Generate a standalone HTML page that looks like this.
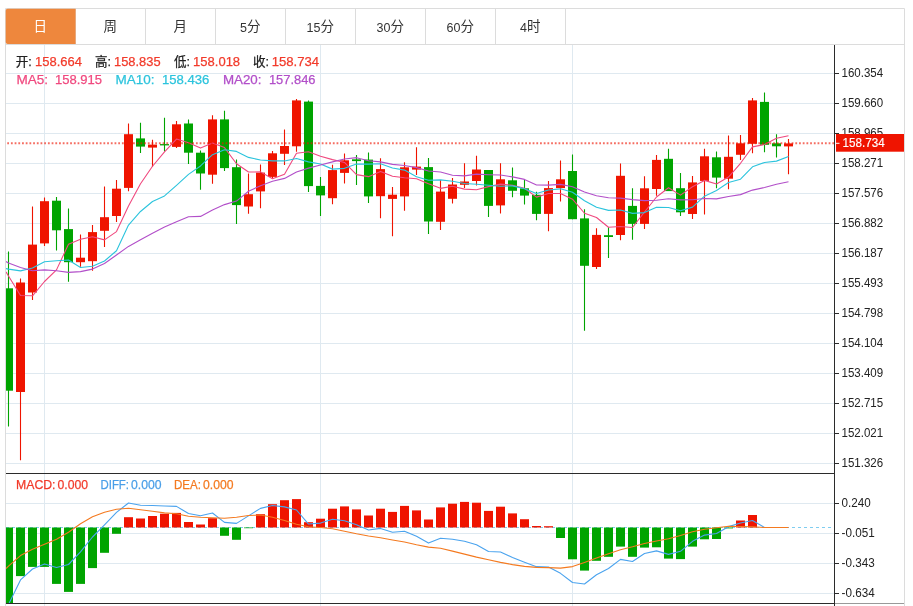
<!DOCTYPE html>
<html lang="zh"><head><meta charset="utf-8"><title>K线图</title>
<style>html,body{margin:0;padding:0;background:#fff;overflow:hidden}svg{display:block}text{font-family:"Liberation Sans","Noto Sans CJK SC",sans-serif}</style></head><body>
<svg width="913" height="606" viewBox="0 0 913 606">
<rect width="913" height="606" fill="#fff"/>
<defs><clipPath id="cm"><rect x="6" y="45" width="828.5" height="428.5"/></clipPath><clipPath id="cd"><rect x="6" y="474" width="828.5" height="129.5"/></clipPath></defs>
<g stroke="#dfe9f0" stroke-width="1" fill="none">
<line x1="6" x2="834" y1="73.50" y2="73.50"/>
<line x1="6" x2="834" y1="103.50" y2="103.50"/>
<line x1="6" x2="834" y1="133.50" y2="133.50"/>
<line x1="6" x2="834" y1="163.50" y2="163.50"/>
<line x1="6" x2="834" y1="193.50" y2="193.50"/>
<line x1="6" x2="834" y1="223.50" y2="223.50"/>
<line x1="6" x2="834" y1="253.50" y2="253.50"/>
<line x1="6" x2="834" y1="283.50" y2="283.50"/>
<line x1="6" x2="834" y1="313.50" y2="313.50"/>
<line x1="6" x2="834" y1="343.50" y2="343.50"/>
<line x1="6" x2="834" y1="373.50" y2="373.50"/>
<line x1="6" x2="834" y1="403.50" y2="403.50"/>
<line x1="6" x2="834" y1="433.50" y2="433.50"/>
<line x1="6" x2="834" y1="463.50" y2="463.50"/>
<line x1="6" x2="834" y1="503.50" y2="503.50"/>
<line x1="6" x2="834" y1="533.50" y2="533.50"/>
<line x1="6" x2="834" y1="563.50" y2="563.50"/>
<line x1="6" x2="834" y1="593.50" y2="593.50"/>
<line x1="44.50" x2="44.50" y1="45" y2="606"/>
<line x1="320.50" x2="320.50" y1="45" y2="606"/>
<line x1="572.50" x2="572.50" y1="45" y2="606"/>
</g>
<g stroke="#dcdcdc" stroke-width="1" fill="none">
<path d="M5.5 606V8.5H904.5V606"/>
<line x1="6" x2="904" y1="44.5" y2="44.5"/>
<line x1="75.5" x2="75.5" y1="9" y2="44"/>
<line x1="145.5" x2="145.5" y1="9" y2="44"/>
<line x1="215.5" x2="215.5" y1="9" y2="44"/>
<line x1="285.5" x2="285.5" y1="9" y2="44"/>
<line x1="355.5" x2="355.5" y1="9" y2="44"/>
<line x1="425.5" x2="425.5" y1="9" y2="44"/>
<line x1="495.5" x2="495.5" y1="9" y2="44"/>
<line x1="565.5" x2="565.5" y1="9" y2="44"/>
</g>
<path d="M7.7 8.7H75.6V44.1H7.7a2 2 0 0 1 -2-2V10.7a2 2 0 0 1 2-2z" fill="#ee873d"/>
<text x="40.3" y="30.9" font-size="13.5" text-anchor="middle" fill="#fff">日</text>
<text x="110.3" y="30.9" font-size="13.5" text-anchor="middle" fill="#333">周</text>
<text x="180.3" y="30.9" font-size="13.5" text-anchor="middle" fill="#333">月</text>
<text x="250.3" y="30.9" font-size="13.5" text-anchor="middle" fill="#333"><tspan font-size="12.5" dy="0.8">5</tspan><tspan dy="-0.8">分</tspan></text>
<text x="320.3" y="30.9" font-size="13.5" text-anchor="middle" fill="#333"><tspan font-size="12.5" dy="0.8">15</tspan><tspan dy="-0.8">分</tspan></text>
<text x="390.3" y="30.9" font-size="13.5" text-anchor="middle" fill="#333"><tspan font-size="12.5" dy="0.8">30</tspan><tspan dy="-0.8">分</tspan></text>
<text x="460.3" y="30.9" font-size="13.5" text-anchor="middle" fill="#333"><tspan font-size="12.5" dy="0.8">60</tspan><tspan dy="-0.8">分</tspan></text>
<text x="530.3" y="30.9" font-size="13.5" text-anchor="middle" fill="#333"><tspan font-size="12.5" dy="0.8">4</tspan><tspan dy="-0.8">时</tspan></text>
<text x="15.8" y="65.9" font-size="13" fill="#222" stroke="#222" stroke-width="0.25" textLength="16.0" lengthAdjust="spacingAndGlyphs">开:</text>
<text x="35.0" y="65.9" font-size="13" fill="#f23a2a" stroke="#f23a2a" stroke-width="0.25" textLength="46.9" lengthAdjust="spacingAndGlyphs">158.664</text>
<text x="95.0" y="65.9" font-size="13" fill="#222" stroke="#222" stroke-width="0.25" textLength="16.0" lengthAdjust="spacingAndGlyphs">高:</text>
<text x="114.0" y="65.9" font-size="13" fill="#f23a2a" stroke="#f23a2a" stroke-width="0.25" textLength="46.6" lengthAdjust="spacingAndGlyphs">158.835</text>
<text x="174.0" y="65.9" font-size="13" fill="#222" stroke="#222" stroke-width="0.25" textLength="16.0" lengthAdjust="spacingAndGlyphs">低:</text>
<text x="193.1" y="65.9" font-size="13" fill="#f23a2a" stroke="#f23a2a" stroke-width="0.25" textLength="47.0" lengthAdjust="spacingAndGlyphs">158.018</text>
<text x="253.1" y="65.9" font-size="13" fill="#222" stroke="#222" stroke-width="0.25" textLength="16.0" lengthAdjust="spacingAndGlyphs">收:</text>
<text x="271.7" y="65.9" font-size="13" fill="#f23a2a" stroke="#f23a2a" stroke-width="0.25" textLength="47.5" lengthAdjust="spacingAndGlyphs">158.734</text>
<text x="16.4" y="83.6" font-size="13" fill="#f0497f" stroke="#f0497f" stroke-width="0.25" textLength="31.6" lengthAdjust="spacingAndGlyphs">MA5:</text>
<text x="54.9" y="83.6" font-size="13" fill="#f0497f" stroke="#f0497f" stroke-width="0.25" textLength="47.1" lengthAdjust="spacingAndGlyphs">158.915</text>
<text x="115.5" y="83.6" font-size="13" fill="#2cc4dd" stroke="#2cc4dd" stroke-width="0.25" textLength="39.0" lengthAdjust="spacingAndGlyphs">MA10:</text>
<text x="161.9" y="83.6" font-size="13" fill="#2cc4dd" stroke="#2cc4dd" stroke-width="0.25" textLength="47.4" lengthAdjust="spacingAndGlyphs">158.436</text>
<text x="222.9" y="83.6" font-size="13" fill="#b24fc9" stroke="#b24fc9" stroke-width="0.25" textLength="38.6" lengthAdjust="spacingAndGlyphs">MA20:</text>
<text x="268.9" y="83.6" font-size="13" fill="#b24fc9" stroke="#b24fc9" stroke-width="0.25" textLength="46.6" lengthAdjust="spacingAndGlyphs">157.846</text>
<g clip-path="url(#cm)">
<line x1="8.50" x2="8.50" y1="251.4" y2="426.4" stroke="#00a400" stroke-width="1.1"/>
<rect x="4.00" y="288.3" width="9.0" height="102.4" fill="#00a400"/>
<line x1="20.50" x2="20.50" y1="278.5" y2="460.2" stroke="#ef1400" stroke-width="1.1"/>
<rect x="16.00" y="282.5" width="9.0" height="109.5" fill="#ef1400"/>
<line x1="32.50" x2="32.50" y1="206.5" y2="300.0" stroke="#ef1400" stroke-width="1.1"/>
<rect x="28.00" y="244.6" width="9.0" height="47.9" fill="#ef1400"/>
<line x1="44.50" x2="44.50" y1="197.4" y2="246.1" stroke="#ef1400" stroke-width="1.1"/>
<rect x="40.00" y="201.2" width="9.0" height="42.2" fill="#ef1400"/>
<line x1="56.50" x2="56.50" y1="196.9" y2="250.4" stroke="#00a400" stroke-width="1.1"/>
<rect x="52.00" y="200.7" width="9.0" height="29.6" fill="#00a400"/>
<line x1="68.50" x2="68.50" y1="208.5" y2="281.7" stroke="#00a400" stroke-width="1.1"/>
<rect x="64.00" y="229.1" width="9.0" height="33.1" fill="#00a400"/>
<line x1="80.50" x2="80.50" y1="234.6" y2="266.7" stroke="#ef1400" stroke-width="1.1"/>
<rect x="76.00" y="257.7" width="9.0" height="4.5" fill="#ef1400"/>
<line x1="92.50" x2="92.50" y1="225.0" y2="270.7" stroke="#ef1400" stroke-width="1.1"/>
<rect x="88.00" y="232.1" width="9.0" height="29.1" fill="#ef1400"/>
<line x1="104.50" x2="104.50" y1="186.6" y2="247.1" stroke="#ef1400" stroke-width="1.1"/>
<rect x="100.00" y="217.2" width="9.0" height="13.6" fill="#ef1400"/>
<line x1="116.50" x2="116.50" y1="180.1" y2="222.0" stroke="#ef1400" stroke-width="1.1"/>
<rect x="112.00" y="188.7" width="9.0" height="27.3" fill="#ef1400"/>
<line x1="128.50" x2="128.50" y1="123.5" y2="191.2" stroke="#ef1400" stroke-width="1.1"/>
<rect x="124.00" y="134.2" width="9.0" height="53.7" fill="#ef1400"/>
<line x1="140.50" x2="140.50" y1="122.7" y2="152.9" stroke="#00a400" stroke-width="1.1"/>
<rect x="136.00" y="138.4" width="9.0" height="8.2" fill="#00a400"/>
<line x1="152.50" x2="152.50" y1="139.7" y2="166.9" stroke="#ef1400" stroke-width="1.1"/>
<rect x="148.00" y="144.6" width="9.0" height="3.0" fill="#ef1400"/>
<line x1="164.50" x2="164.50" y1="117.7" y2="151.6" stroke="#00a400" stroke-width="1.1"/>
<rect x="160.00" y="144.1" width="9.0" height="1.3" fill="#00a400"/>
<line x1="176.50" x2="176.50" y1="121.0" y2="147.9" stroke="#ef1400" stroke-width="1.1"/>
<rect x="172.00" y="124.3" width="9.0" height="22.6" fill="#ef1400"/>
<line x1="188.50" x2="188.50" y1="119.4" y2="163.9" stroke="#00a400" stroke-width="1.1"/>
<rect x="184.00" y="123.5" width="9.0" height="29.2" fill="#00a400"/>
<line x1="200.50" x2="200.50" y1="150.4" y2="189.8" stroke="#00a400" stroke-width="1.1"/>
<rect x="196.00" y="152.7" width="9.0" height="20.8" fill="#00a400"/>
<line x1="212.50" x2="212.50" y1="115.3" y2="183.7" stroke="#ef1400" stroke-width="1.1"/>
<rect x="208.00" y="119.4" width="9.0" height="55.3" fill="#ef1400"/>
<line x1="224.50" x2="224.50" y1="110.7" y2="171.1" stroke="#00a400" stroke-width="1.1"/>
<rect x="220.00" y="119.4" width="9.0" height="48.7" fill="#00a400"/>
<line x1="236.50" x2="236.50" y1="159.4" y2="223.9" stroke="#00a400" stroke-width="1.1"/>
<rect x="232.00" y="167.2" width="9.0" height="37.9" fill="#00a400"/>
<line x1="248.50" x2="248.50" y1="173.4" y2="213.7" stroke="#ef1400" stroke-width="1.1"/>
<rect x="244.00" y="194.2" width="9.0" height="12.3" fill="#ef1400"/>
<line x1="260.50" x2="260.50" y1="164.6" y2="208.2" stroke="#ef1400" stroke-width="1.1"/>
<rect x="256.00" y="172.6" width="9.0" height="18.8" fill="#ef1400"/>
<line x1="272.50" x2="272.50" y1="151.0" y2="178.1" stroke="#ef1400" stroke-width="1.1"/>
<rect x="268.00" y="153.3" width="9.0" height="23.6" fill="#ef1400"/>
<line x1="284.50" x2="284.50" y1="129.5" y2="165.1" stroke="#ef1400" stroke-width="1.1"/>
<rect x="280.00" y="146.0" width="9.0" height="7.8" fill="#ef1400"/>
<line x1="296.50" x2="296.50" y1="99.1" y2="151.8" stroke="#ef1400" stroke-width="1.1"/>
<rect x="292.00" y="100.4" width="9.0" height="45.9" fill="#ef1400"/>
<line x1="308.50" x2="308.50" y1="100.4" y2="191.9" stroke="#00a400" stroke-width="1.1"/>
<rect x="304.00" y="101.6" width="9.0" height="84.5" fill="#00a400"/>
<line x1="320.50" x2="320.50" y1="176.9" y2="216.0" stroke="#00a400" stroke-width="1.1"/>
<rect x="316.00" y="185.9" width="9.0" height="9.5" fill="#00a400"/>
<line x1="332.50" x2="332.50" y1="164.8" y2="204.2" stroke="#ef1400" stroke-width="1.1"/>
<rect x="328.00" y="170.1" width="9.0" height="28.1" fill="#ef1400"/>
<line x1="344.50" x2="344.50" y1="153.5" y2="183.6" stroke="#ef1400" stroke-width="1.1"/>
<rect x="340.00" y="160.3" width="9.0" height="12.6" fill="#ef1400"/>
<line x1="356.50" x2="356.50" y1="155.0" y2="185.1" stroke="#00a400" stroke-width="1.1"/>
<rect x="352.00" y="159.3" width="9.0" height="1.8" fill="#00a400"/>
<line x1="368.50" x2="368.50" y1="152.5" y2="202.9" stroke="#00a400" stroke-width="1.1"/>
<rect x="364.00" y="159.6" width="9.0" height="36.8" fill="#00a400"/>
<line x1="380.50" x2="380.50" y1="158.3" y2="218.2" stroke="#ef1400" stroke-width="1.1"/>
<rect x="376.00" y="169.1" width="9.0" height="27.1" fill="#ef1400"/>
<line x1="392.50" x2="392.50" y1="187.1" y2="236.2" stroke="#ef1400" stroke-width="1.1"/>
<rect x="388.00" y="194.7" width="9.0" height="4.2" fill="#ef1400"/>
<line x1="404.50" x2="404.50" y1="162.3" y2="210.7" stroke="#ef1400" stroke-width="1.1"/>
<rect x="400.00" y="167.3" width="9.0" height="29.1" fill="#ef1400"/>
<line x1="416.50" x2="416.50" y1="147.3" y2="175.1" stroke="#ef1400" stroke-width="1.1"/>
<rect x="412.00" y="166.6" width="9.0" height="3.0" fill="#ef1400"/>
<line x1="428.50" x2="428.50" y1="158.1" y2="233.9" stroke="#00a400" stroke-width="1.1"/>
<rect x="424.00" y="167.1" width="9.0" height="54.4" fill="#00a400"/>
<line x1="440.50" x2="440.50" y1="180.1" y2="230.0" stroke="#ef1400" stroke-width="1.1"/>
<rect x="436.00" y="191.6" width="9.0" height="30.2" fill="#ef1400"/>
<line x1="452.50" x2="452.50" y1="178.0" y2="203.6" stroke="#ef1400" stroke-width="1.1"/>
<rect x="448.00" y="184.5" width="9.0" height="14.3" fill="#ef1400"/>
<line x1="464.50" x2="464.50" y1="163.2" y2="188.1" stroke="#ef1400" stroke-width="1.1"/>
<rect x="460.00" y="181.5" width="9.0" height="3.3" fill="#ef1400"/>
<line x1="476.50" x2="476.50" y1="155.7" y2="185.5" stroke="#ef1400" stroke-width="1.1"/>
<rect x="472.00" y="169.5" width="9.0" height="11.5" fill="#ef1400"/>
<line x1="488.50" x2="488.50" y1="170.0" y2="216.9" stroke="#00a400" stroke-width="1.1"/>
<rect x="484.00" y="170.0" width="9.0" height="35.9" fill="#00a400"/>
<line x1="500.50" x2="500.50" y1="163.2" y2="213.4" stroke="#ef1400" stroke-width="1.1"/>
<rect x="496.00" y="179.3" width="9.0" height="26.1" fill="#ef1400"/>
<line x1="512.50" x2="512.50" y1="167.5" y2="197.3" stroke="#00a400" stroke-width="1.1"/>
<rect x="508.00" y="180.3" width="9.0" height="10.5" fill="#00a400"/>
<line x1="524.50" x2="524.50" y1="179.8" y2="204.6" stroke="#00a400" stroke-width="1.1"/>
<rect x="520.00" y="188.3" width="9.0" height="7.3" fill="#00a400"/>
<line x1="536.50" x2="536.50" y1="191.8" y2="220.2" stroke="#00a400" stroke-width="1.1"/>
<rect x="532.00" y="194.8" width="9.0" height="19.1" fill="#00a400"/>
<line x1="548.50" x2="548.50" y1="181.0" y2="231.2" stroke="#ef1400" stroke-width="1.1"/>
<rect x="544.00" y="188.1" width="9.0" height="25.8" fill="#ef1400"/>
<line x1="560.50" x2="560.50" y1="160.5" y2="201.6" stroke="#ef1400" stroke-width="1.1"/>
<rect x="556.00" y="179.3" width="9.0" height="8.8" fill="#ef1400"/>
<line x1="572.50" x2="572.50" y1="154.4" y2="219.2" stroke="#00a400" stroke-width="1.1"/>
<rect x="568.00" y="171.0" width="9.0" height="48.2" fill="#00a400"/>
<line x1="584.50" x2="584.50" y1="209.3" y2="330.7" stroke="#00a400" stroke-width="1.1"/>
<rect x="580.00" y="218.4" width="9.0" height="47.4" fill="#00a400"/>
<line x1="596.50" x2="596.50" y1="228.3" y2="269.0" stroke="#ef1400" stroke-width="1.1"/>
<rect x="592.00" y="234.9" width="9.0" height="32.1" fill="#ef1400"/>
<line x1="608.50" x2="608.50" y1="227.2" y2="257.9" stroke="#00a400" stroke-width="1.1"/>
<rect x="604.00" y="235.2" width="9.0" height="1.8" fill="#00a400"/>
<line x1="620.50" x2="620.50" y1="163.5" y2="240.2" stroke="#ef1400" stroke-width="1.1"/>
<rect x="616.00" y="175.8" width="9.0" height="59.2" fill="#ef1400"/>
<line x1="632.50" x2="632.50" y1="188.3" y2="239.7" stroke="#00a400" stroke-width="1.1"/>
<rect x="628.00" y="205.9" width="9.0" height="18.0" fill="#00a400"/>
<line x1="644.50" x2="644.50" y1="176.2" y2="228.9" stroke="#ef1400" stroke-width="1.1"/>
<rect x="640.00" y="188.3" width="9.0" height="35.6" fill="#ef1400"/>
<line x1="656.50" x2="656.50" y1="155.1" y2="195.7" stroke="#ef1400" stroke-width="1.1"/>
<rect x="652.00" y="159.9" width="9.0" height="29.1" fill="#ef1400"/>
<line x1="668.50" x2="668.50" y1="148.8" y2="191.1" stroke="#00a400" stroke-width="1.1"/>
<rect x="664.00" y="158.8" width="9.0" height="32.3" fill="#00a400"/>
<line x1="680.50" x2="680.50" y1="173.1" y2="216.0" stroke="#00a400" stroke-width="1.1"/>
<rect x="676.00" y="188.2" width="9.0" height="24.1" fill="#00a400"/>
<line x1="692.50" x2="692.50" y1="176.1" y2="219.0" stroke="#ef1400" stroke-width="1.1"/>
<rect x="688.00" y="182.4" width="9.0" height="31.6" fill="#ef1400"/>
<line x1="704.50" x2="704.50" y1="148.8" y2="214.5" stroke="#ef1400" stroke-width="1.1"/>
<rect x="700.00" y="156.3" width="9.0" height="24.6" fill="#ef1400"/>
<line x1="716.50" x2="716.50" y1="151.6" y2="188.2" stroke="#00a400" stroke-width="1.1"/>
<rect x="712.00" y="157.3" width="9.0" height="20.3" fill="#00a400"/>
<line x1="728.50" x2="728.50" y1="135.5" y2="189.2" stroke="#ef1400" stroke-width="1.1"/>
<rect x="724.00" y="156.8" width="9.0" height="21.9" fill="#ef1400"/>
<line x1="740.50" x2="740.50" y1="135.0" y2="160.1" stroke="#ef1400" stroke-width="1.1"/>
<rect x="736.00" y="143.3" width="9.0" height="11.5" fill="#ef1400"/>
<line x1="752.50" x2="752.50" y1="97.9" y2="153.3" stroke="#ef1400" stroke-width="1.1"/>
<rect x="748.00" y="100.4" width="9.0" height="43.4" fill="#ef1400"/>
<line x1="764.50" x2="764.50" y1="92.4" y2="152.3" stroke="#00a400" stroke-width="1.1"/>
<rect x="760.00" y="101.9" width="9.0" height="42.9" fill="#00a400"/>
<line x1="776.50" x2="776.50" y1="134.3" y2="157.6" stroke="#00a400" stroke-width="1.1"/>
<rect x="772.00" y="143.3" width="9.0" height="3.0" fill="#00a400"/>
<line x1="788.50" x2="788.50" y1="138.9" y2="174.3" stroke="#ef1400" stroke-width="1.1"/>
<rect x="784.00" y="143.4" width="9.0" height="3.0" fill="#ef1400"/>
<polyline points="6.00,271.90 8.50,276.00 20.50,295.50 32.50,295.80 44.50,281.50 56.50,269.86 68.50,244.16 80.50,239.20 92.50,236.70 104.50,239.90 116.50,231.58 128.50,205.98 140.50,183.76 152.50,166.26 164.50,151.90 176.50,139.02 188.50,142.72 200.50,148.10 212.50,143.06 224.50,147.60 236.50,163.76 248.50,172.06 260.50,171.88 272.50,178.66 284.50,174.24 296.50,153.30 308.50,151.68 320.50,156.24 332.50,159.60 344.50,162.46 356.50,174.60 368.50,176.66 380.50,171.40 392.50,176.32 404.50,177.72 416.50,178.82 428.50,183.84 440.50,188.34 452.50,186.30 464.50,189.14 476.50,189.72 488.50,186.60 500.50,184.14 512.50,185.40 524.50,188.22 536.50,197.10 548.50,193.54 560.50,193.54 572.50,199.22 584.50,213.26 596.50,217.46 608.50,227.24 620.50,226.54 632.50,227.48 644.50,211.98 656.50,196.98 668.50,187.80 680.50,195.10 692.50,186.80 704.50,180.40 716.50,183.94 728.50,177.08 740.50,163.28 752.50,146.88 764.50,144.58 776.50,138.32 788.50,135.70" fill="none" stroke="#f0497f" stroke-width="1.1" stroke-linejoin="round"/>
<polyline points="6.00,268.60 8.50,269.10 20.50,270.90 32.50,268.00 44.50,261.70 56.50,260.70 68.50,260.00 80.50,267.50 92.50,266.30 104.50,261.00 116.50,250.72 128.50,225.07 140.50,211.48 152.50,201.48 164.50,195.90 176.50,185.30 188.50,174.35 200.50,165.93 212.50,154.66 224.50,149.75 236.50,151.39 248.50,157.39 260.50,159.99 272.50,160.86 284.50,160.92 296.50,158.53 308.50,161.87 320.50,164.06 332.50,169.13 344.50,168.35 356.50,163.95 368.50,164.17 380.50,163.82 392.50,167.96 404.50,170.09 416.50,176.71 428.50,180.25 440.50,179.87 452.50,181.31 464.50,183.43 476.50,184.27 488.50,185.22 500.50,186.24 512.50,185.85 524.50,188.68 536.50,193.41 548.50,190.07 560.50,188.84 572.50,192.31 584.50,200.74 596.50,207.28 608.50,210.39 620.50,210.04 632.50,213.35 644.50,212.62 656.50,207.22 668.50,207.52 680.50,210.82 692.50,207.14 704.50,196.19 716.50,190.46 728.50,182.44 740.50,179.19 752.50,166.84 764.50,162.49 776.50,161.13 788.50,156.40" fill="none" stroke="#2cc4dd" stroke-width="1.1" stroke-linejoin="round"/>
<polyline points="6.00,261.50 8.50,263.00 20.50,267.50 32.50,270.80 44.50,269.90 56.50,270.80 68.50,272.40 80.50,271.60 92.50,269.10 104.50,263.50 116.50,255.00 128.50,246.40 140.50,239.80 152.50,233.30 164.50,227.10 176.50,221.70 188.50,216.70 200.50,216.40 212.50,210.00 224.50,204.60 236.50,201.06 248.50,191.23 260.50,185.74 272.50,181.17 284.50,178.41 296.50,171.92 308.50,168.11 320.50,165.00 332.50,161.90 344.50,159.05 356.50,157.67 368.50,160.78 380.50,161.91 392.50,164.41 404.50,165.51 416.50,167.62 428.50,171.06 440.50,171.97 452.50,175.22 464.50,175.89 476.50,174.11 488.50,174.69 500.50,175.03 512.50,176.91 524.50,179.39 536.50,185.06 548.50,185.16 560.50,184.36 572.50,186.81 584.50,192.09 596.50,195.78 608.50,197.81 620.50,198.14 632.50,199.60 644.50,200.65 656.50,200.31 668.50,198.80 680.50,199.83 692.50,199.72 704.50,198.47 716.50,198.87 728.50,196.42 740.50,194.62 752.50,190.09 764.50,187.56 776.50,184.18 788.50,181.80" fill="none" stroke="#b24fc9" stroke-width="1.1" stroke-linejoin="round"/>
</g>
<line x1="3.53" x2="834" y1="143.2" y2="143.2" stroke="#ef1400" stroke-opacity="0.62" stroke-width="1.9" stroke-dasharray="1.8 1.9" clip-path="url(#cm)"/>
<line x1="6" x2="834" y1="527.5" y2="527.5" stroke="#7fcdf0" stroke-width="1" stroke-dasharray="3 3"/>
<g clip-path="url(#cd)">
<rect x="4.00" y="527.5" width="9.0" height="112.5" fill="#00a400"/>
<rect x="16.00" y="527.5" width="9.0" height="48.6" fill="#00a400"/>
<rect x="28.00" y="527.5" width="9.0" height="39.4" fill="#00a400"/>
<rect x="40.00" y="527.5" width="9.0" height="39.4" fill="#00a400"/>
<rect x="52.00" y="527.5" width="9.0" height="56.4" fill="#00a400"/>
<rect x="64.00" y="527.5" width="9.0" height="64.4" fill="#00a400"/>
<rect x="76.00" y="527.5" width="9.0" height="56.4" fill="#00a400"/>
<rect x="88.00" y="527.5" width="9.0" height="40.6" fill="#00a400"/>
<rect x="100.00" y="527.5" width="9.0" height="25.3" fill="#00a400"/>
<rect x="112.00" y="527.5" width="9.0" height="6.3" fill="#00a400"/>
<rect x="124.00" y="517.2" width="9.0" height="10.3" fill="#ef1400"/>
<rect x="136.00" y="518.5" width="9.0" height="9.0" fill="#ef1400"/>
<rect x="148.00" y="516.0" width="9.0" height="11.5" fill="#ef1400"/>
<rect x="160.00" y="513.7" width="9.0" height="13.8" fill="#ef1400"/>
<rect x="172.00" y="512.9" width="9.0" height="14.6" fill="#ef1400"/>
<rect x="184.00" y="522.0" width="9.0" height="5.5" fill="#ef1400"/>
<rect x="196.00" y="524.5" width="9.0" height="3.0" fill="#ef1400"/>
<rect x="208.00" y="518.2" width="9.0" height="9.3" fill="#ef1400"/>
<rect x="220.00" y="527.5" width="9.0" height="8.3" fill="#00a400"/>
<rect x="232.00" y="527.5" width="9.0" height="12.3" fill="#00a400"/>
<rect x="244.00" y="527.5" width="9.0" height="0.7" fill="#00a400"/>
<rect x="256.00" y="514.2" width="9.0" height="13.3" fill="#ef1400"/>
<rect x="268.00" y="504.2" width="9.0" height="23.3" fill="#ef1400"/>
<rect x="280.00" y="500.2" width="9.0" height="27.3" fill="#ef1400"/>
<rect x="292.00" y="499.1" width="9.0" height="28.4" fill="#ef1400"/>
<rect x="304.00" y="522.2" width="9.0" height="5.3" fill="#ef1400"/>
<rect x="316.00" y="518.7" width="9.0" height="8.8" fill="#ef1400"/>
<rect x="328.00" y="508.7" width="9.0" height="18.8" fill="#ef1400"/>
<rect x="340.00" y="506.4" width="9.0" height="21.1" fill="#ef1400"/>
<rect x="352.00" y="509.4" width="9.0" height="18.1" fill="#ef1400"/>
<rect x="364.00" y="515.5" width="9.0" height="12.0" fill="#ef1400"/>
<rect x="376.00" y="508.7" width="9.0" height="18.8" fill="#ef1400"/>
<rect x="388.00" y="511.9" width="9.0" height="15.6" fill="#ef1400"/>
<rect x="400.00" y="505.9" width="9.0" height="21.6" fill="#ef1400"/>
<rect x="412.00" y="510.4" width="9.0" height="17.1" fill="#ef1400"/>
<rect x="424.00" y="519.5" width="9.0" height="8.0" fill="#ef1400"/>
<rect x="436.00" y="507.4" width="9.0" height="20.1" fill="#ef1400"/>
<rect x="448.00" y="503.7" width="9.0" height="23.8" fill="#ef1400"/>
<rect x="460.00" y="501.9" width="9.0" height="25.6" fill="#ef1400"/>
<rect x="472.00" y="502.7" width="9.0" height="24.8" fill="#ef1400"/>
<rect x="484.00" y="510.9" width="9.0" height="16.6" fill="#ef1400"/>
<rect x="496.00" y="506.7" width="9.0" height="20.8" fill="#ef1400"/>
<rect x="508.00" y="513.4" width="9.0" height="14.1" fill="#ef1400"/>
<rect x="520.00" y="519.2" width="9.0" height="8.3" fill="#ef1400"/>
<rect x="532.00" y="526.0" width="9.0" height="1.5" fill="#ef1400"/>
<rect x="544.00" y="526.2" width="9.0" height="1.3" fill="#ef1400"/>
<rect x="556.00" y="527.5" width="9.0" height="10.5" fill="#00a400"/>
<rect x="568.00" y="527.5" width="9.0" height="31.8" fill="#00a400"/>
<rect x="580.00" y="527.5" width="9.0" height="43.1" fill="#00a400"/>
<rect x="592.00" y="527.5" width="9.0" height="33.3" fill="#00a400"/>
<rect x="604.00" y="527.5" width="9.0" height="29.3" fill="#00a400"/>
<rect x="616.00" y="527.5" width="9.0" height="19.1" fill="#00a400"/>
<rect x="628.00" y="527.5" width="9.0" height="29.3" fill="#00a400"/>
<rect x="640.00" y="527.5" width="9.0" height="20.1" fill="#00a400"/>
<rect x="652.00" y="527.5" width="9.0" height="19.8" fill="#00a400"/>
<rect x="664.00" y="527.5" width="9.0" height="31.1" fill="#00a400"/>
<rect x="676.00" y="527.5" width="9.0" height="31.6" fill="#00a400"/>
<rect x="688.00" y="527.5" width="9.0" height="19.1" fill="#00a400"/>
<rect x="700.00" y="527.5" width="9.0" height="11.8" fill="#00a400"/>
<rect x="712.00" y="527.5" width="9.0" height="11.5" fill="#00a400"/>
<rect x="724.00" y="527.5" width="9.0" height="0.9" fill="#00a400"/>
<rect x="736.00" y="520.5" width="9.0" height="7.0" fill="#ef1400"/>
<rect x="748.00" y="515.0" width="9.0" height="12.5" fill="#ef1400"/>
<polyline points="8.50,604.50 20.50,579.90 32.50,569.00 44.50,564.00 56.50,567.50 68.50,564.50 80.50,551.90 92.50,537.00 104.50,524.85 116.50,512.35 128.50,503.05 140.50,505.20 152.50,505.45 164.50,506.00 176.50,506.40 188.50,513.45 200.50,515.70 212.50,513.05 224.50,522.35 236.50,523.35 248.50,515.85 260.50,508.35 272.50,505.55 284.50,506.85 296.50,510.00 308.50,524.05 320.50,523.10 332.50,519.30 344.50,520.75 356.50,524.75 368.50,530.00 380.50,528.40 392.50,532.20 404.50,531.20 416.50,536.25 428.50,543.10 440.50,538.25 452.50,539.20 464.50,541.30 476.50,544.70 488.50,551.50 500.50,552.00 512.50,557.55 524.50,562.25 536.50,566.65 548.50,566.95 560.50,573.35 572.50,582.50 584.50,583.95 596.50,574.75 608.50,568.45 620.50,559.35 632.50,561.45 644.50,553.55 656.50,550.90 668.50,554.35 680.50,551.30 692.50,541.35 704.50,535.10 716.50,533.45 728.50,526.65 740.50,523.00 752.50,520.45 764.50,527.50 776.50,527.50 788.50,527.50" fill="none" stroke="#4aa3ee" stroke-width="1.1" stroke-linejoin="round"/>
<polyline points="6.00,568.50 8.50,566.10 20.50,555.60 32.50,549.30 44.50,544.30 56.50,539.30 68.50,532.30 80.50,523.70 92.50,516.70 104.50,512.20 116.50,509.20 128.50,508.20 140.50,509.70 152.50,511.20 164.50,512.90 176.50,513.70 188.50,516.20 200.50,517.20 212.50,517.70 224.50,518.20 236.50,517.20 248.50,515.50 260.50,515.00 272.50,517.20 284.50,520.50 296.50,524.20 308.50,526.70 320.50,527.50 332.50,528.70 344.50,531.30 356.50,533.80 368.50,536.00 380.50,537.80 392.50,540.00 404.50,542.00 416.50,544.80 428.50,547.10 440.50,548.30 452.50,551.10 464.50,554.10 476.50,557.10 488.50,559.80 500.50,562.40 512.50,564.60 524.50,566.40 536.50,567.40 548.50,567.60 560.50,568.10 572.50,566.60 584.50,562.40 596.50,558.10 608.50,553.80 620.50,549.80 632.50,546.80 644.50,543.50 656.50,541.00 668.50,538.80 680.50,535.50 692.50,531.80 704.50,529.20 716.50,527.70 728.50,526.20 740.50,526.50 752.50,526.70 764.50,527.50 776.50,527.50 788.50,527.50" fill="none" stroke="#f47a20" stroke-width="1.1" stroke-linejoin="round"/>
</g>
<text x="16.0" y="489.0" font-size="13" fill="#f23a2a" stroke="#f23a2a" stroke-width="0.25" textLength="39.5" lengthAdjust="spacingAndGlyphs">MACD:</text>
<text x="57.5" y="489.0" font-size="13" fill="#f23a2a" stroke="#f23a2a" stroke-width="0.25" textLength="30.5" lengthAdjust="spacingAndGlyphs">0.000</text>
<text x="100.5" y="489.0" font-size="13" fill="#4a9fe8" stroke="#4a9fe8" stroke-width="0.25" textLength="28.5" lengthAdjust="spacingAndGlyphs">DIFF:</text>
<text x="131.0" y="489.0" font-size="13" fill="#4a9fe8" stroke="#4a9fe8" stroke-width="0.25" textLength="30.5" lengthAdjust="spacingAndGlyphs">0.000</text>
<text x="174.0" y="489.0" font-size="13" fill="#f47a20" stroke="#f47a20" stroke-width="0.25" textLength="27.0" lengthAdjust="spacingAndGlyphs">DEA:</text>
<text x="203.0" y="489.0" font-size="13" fill="#f47a20" stroke="#f47a20" stroke-width="0.25" textLength="30.5" lengthAdjust="spacingAndGlyphs">0.000</text>
<g stroke="#2b2b2b" stroke-width="1" fill="none">
<line x1="834.5" x2="834.5" y1="45" y2="606"/>
<line x1="6" x2="835" y1="473.5" y2="473.5"/>
<line x1="6" x2="835" y1="603.5" y2="603.5"/>
<line x1="835" x2="904" y1="603.5" y2="603.5" stroke="#999"/>
<line x1="835" x2="839" y1="73.50" y2="73.50"/>
<line x1="835" x2="839" y1="103.50" y2="103.50"/>
<line x1="835" x2="839" y1="133.50" y2="133.50"/>
<line x1="835" x2="839" y1="163.50" y2="163.50"/>
<line x1="835" x2="839" y1="193.50" y2="193.50"/>
<line x1="835" x2="839" y1="223.50" y2="223.50"/>
<line x1="835" x2="839" y1="253.50" y2="253.50"/>
<line x1="835" x2="839" y1="283.50" y2="283.50"/>
<line x1="835" x2="839" y1="313.50" y2="313.50"/>
<line x1="835" x2="839" y1="343.50" y2="343.50"/>
<line x1="835" x2="839" y1="373.50" y2="373.50"/>
<line x1="835" x2="839" y1="403.50" y2="403.50"/>
<line x1="835" x2="839" y1="433.50" y2="433.50"/>
<line x1="835" x2="839" y1="463.50" y2="463.50"/>
<line x1="835" x2="839" y1="503.50" y2="503.50"/>
<line x1="835" x2="839" y1="533.50" y2="533.50"/>
<line x1="835" x2="839" y1="563.50" y2="563.50"/>
<line x1="835" x2="839" y1="593.50" y2="593.50"/>
</g>
<text x="841.5" y="77.3" font-size="12" fill="#222" stroke="#222" stroke-width="0" textLength="41.6" lengthAdjust="spacingAndGlyphs">160.354</text>
<text x="841.5" y="107.3" font-size="12" fill="#222" stroke="#222" stroke-width="0" textLength="41.6" lengthAdjust="spacingAndGlyphs">159.660</text>
<text x="841.5" y="137.3" font-size="12" fill="#222" stroke="#222" stroke-width="0" textLength="41.6" lengthAdjust="spacingAndGlyphs">158.965</text>
<text x="841.5" y="167.3" font-size="12" fill="#222" stroke="#222" stroke-width="0" textLength="41.6" lengthAdjust="spacingAndGlyphs">158.271</text>
<text x="841.5" y="197.3" font-size="12" fill="#222" stroke="#222" stroke-width="0" textLength="41.6" lengthAdjust="spacingAndGlyphs">157.576</text>
<text x="841.5" y="227.3" font-size="12" fill="#222" stroke="#222" stroke-width="0" textLength="41.6" lengthAdjust="spacingAndGlyphs">156.882</text>
<text x="841.5" y="257.3" font-size="12" fill="#222" stroke="#222" stroke-width="0" textLength="41.6" lengthAdjust="spacingAndGlyphs">156.187</text>
<text x="841.5" y="287.3" font-size="12" fill="#222" stroke="#222" stroke-width="0" textLength="41.6" lengthAdjust="spacingAndGlyphs">155.493</text>
<text x="841.5" y="317.3" font-size="12" fill="#222" stroke="#222" stroke-width="0" textLength="41.6" lengthAdjust="spacingAndGlyphs">154.798</text>
<text x="841.5" y="347.3" font-size="12" fill="#222" stroke="#222" stroke-width="0" textLength="41.6" lengthAdjust="spacingAndGlyphs">154.104</text>
<text x="841.5" y="377.3" font-size="12" fill="#222" stroke="#222" stroke-width="0" textLength="41.6" lengthAdjust="spacingAndGlyphs">153.409</text>
<text x="841.5" y="407.3" font-size="12" fill="#222" stroke="#222" stroke-width="0" textLength="41.6" lengthAdjust="spacingAndGlyphs">152.715</text>
<text x="841.5" y="437.3" font-size="12" fill="#222" stroke="#222" stroke-width="0" textLength="41.6" lengthAdjust="spacingAndGlyphs">152.021</text>
<text x="841.5" y="467.3" font-size="12" fill="#222" stroke="#222" stroke-width="0" textLength="41.6" lengthAdjust="spacingAndGlyphs">151.326</text>
<text x="841.5" y="507.3" font-size="12" fill="#222" stroke="#222" stroke-width="0" textLength="29.2" lengthAdjust="spacingAndGlyphs">0.240</text>
<text x="841.5" y="537.3" font-size="12" fill="#222" stroke="#222" stroke-width="0" textLength="33.2" lengthAdjust="spacingAndGlyphs">-0.051</text>
<text x="841.5" y="567.3" font-size="12" fill="#222" stroke="#222" stroke-width="0" textLength="33.2" lengthAdjust="spacingAndGlyphs">-0.343</text>
<text x="841.5" y="597.3" font-size="12" fill="#222" stroke="#222" stroke-width="0" textLength="33.2" lengthAdjust="spacingAndGlyphs">-0.634</text>
<rect x="836" y="134" width="68" height="17.7" fill="#ef1400"/>
<line x1="836" x2="839.5" y1="143.3" y2="143.3" stroke="#fff" stroke-width="1"/>
<text x="842.6" y="147.2" font-size="12" fill="#fff" stroke="#fff" stroke-width="0.15" textLength="42.2" lengthAdjust="spacingAndGlyphs">158.734</text>
</svg></body></html>
